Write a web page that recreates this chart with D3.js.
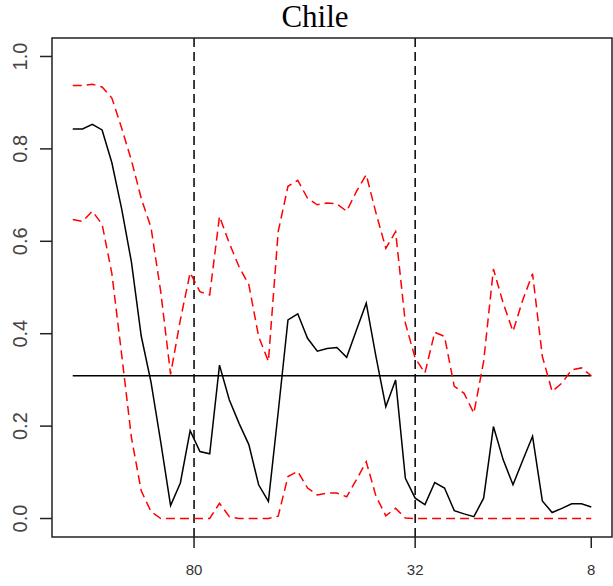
<!DOCTYPE html>
<html>
<head>
<meta charset="utf-8">
<script src="https://cdn.jsdelivr.net/npm/d3@7"></script>
<style>
  body { margin: 0; background: #fff; }
  svg { display: block; }
</style>
</head>
<body>
<svg width="613" height="586"></svg>
<script>
// series, one value per time step
const estimate = [0.843, 0.843, 0.853, 0.841, 0.770, 0.670, 0.555, 0.395, 0.295, 0.165,
  0.028, 0.077, 0.190, 0.145, 0.140, 0.332, 0.257, 0.206, 0.160, 0.073,
  0.037, 0.230, 0.430, 0.443, 0.390, 0.362, 0.368, 0.370, 0.349, 0.408,
  0.466, 0.350, 0.242, 0.300, 0.087, 0.044, 0.030, 0.078, 0.066, 0.017,
  0.010, 0.004, 0.044, 0.199, 0.127, 0.073, 0.126, 0.178, 0.038, 0.013,
  0.022, 0.032, 0.032, 0.025];
const upper = [0.937, 0.937, 0.940, 0.934, 0.910, 0.845, 0.775, 0.693, 0.630, 0.490,
  0.312, 0.430, 0.532, 0.491, 0.484, 0.654, 0.596, 0.545, 0.506, 0.394,
  0.340, 0.621, 0.719, 0.732, 0.693, 0.679, 0.683, 0.681, 0.665, 0.708,
  0.744, 0.661, 0.585, 0.621, 0.423, 0.347, 0.315, 0.403, 0.394, 0.286,
  0.271, 0.228, 0.340, 0.540, 0.466, 0.405, 0.473, 0.530, 0.351, 0.275,
  0.293, 0.322, 0.326, 0.309];
const lower = [0.647, 0.643, 0.665, 0.637, 0.530, 0.355, 0.175, 0.060, 0.015, 0,
  0, 0, 0, 0, 0, 0.033, 0.004, 0, 0, 0,
  0, 0.005, 0.091, 0.102, 0.066, 0.051, 0.055, 0.055, 0.047, 0.084,
  0.123, 0.048, 0.006, 0.022, 0.001, 0, 0, 0, 0, 0,
  0, 0, 0, 0, 0, 0, 0, 0, 0, 0,
  0, 0, 0, 0];
const baseline = 0.309;
const xTickPos = [12.4, 35, 53];
const xTickLabels = ["80", "32", "8"];
const breaks = [12.4, 35];
const yTicks = [0, 0.2, 0.4, 0.6, 0.8, 1.0];

const svg = d3.select("svg");
const pLeft = 52, pRight = 612, pTop = 38, pBottom = 537;
const n = estimate.length;

// R style 4% padding on both axes
const x = d3.scaleLinear().domain([-0.04 * (n - 1), (n - 1) * 1.04]).range([pLeft, pRight]);
const y = d3.scaleLinear().domain([-0.04, 1.04]).range([pBottom, pTop]);

// title
svg.append("text")
  .attr("x", 315)
  .attr("y", 27)
  .attr("text-anchor", "middle")
  .style("font-family", "'Liberation Serif', 'Times New Roman', serif")
  .style("font-size", "31px")
  .text("Chile");

// vertical dashed markers
svg.selectAll("line.brk")
  .data(breaks)
  .enter()
  .append("line")
  .attr("class", "brk")
  .attr("x1", d => x(d)).attr("x2", d => x(d))
  .attr("y1", pTop).attr("y2", pBottom)
  .attr("stroke", "#000")
  .attr("stroke-width", 1.5)
  .attr("stroke-dasharray", "9,5");

// horizontal reference line
svg.append("line")
  .attr("x1", x(0)).attr("x2", x(n - 1))
  .attr("y1", y(baseline)).attr("y2", y(baseline))
  .attr("stroke", "#000")
  .attr("stroke-width", 1.5);

const line = d3.line()
  .x((d, i) => x(i))
  .y(d => y(d));

[upper, lower].forEach(function (s) {
  svg.append("path")
    .datum(s)
    .attr("d", line)
    .attr("fill", "none")
    .attr("stroke", "#ff0000")
    .attr("stroke-width", 1.5)
    .attr("stroke-dasharray", "9,5");
});

svg.append("path")
  .datum(estimate)
  .attr("d", line)
  .attr("fill", "none")
  .attr("stroke", "#000")
  .attr("stroke-width", 1.5);

// box
svg.append("rect")
  .attr("x", pLeft).attr("y", pTop)
  .attr("width", pRight - pLeft).attr("height", pBottom - pTop)
  .attr("fill", "none")
  .attr("stroke", "#222")
  .attr("stroke-width", 1.5);

// y axis
const yAxis = svg.append("g");
yAxis.selectAll("line")
  .data(yTicks)
  .enter()
  .append("line")
  .attr("x1", pLeft - 12).attr("x2", pLeft)
  .attr("y1", d => y(d)).attr("y2", d => y(d))
  .attr("stroke", "#222")
  .attr("stroke-width", 1.5);
yAxis.selectAll("text")
  .data(yTicks)
  .enter()
  .append("text")
  .attr("transform", d => "translate(27," + y(d) + ") rotate(-90)")
  .attr("text-anchor", "middle")
  .style("font-family", "'Liberation Sans', Arial, sans-serif")
  .style("font-size", "20px")
  .style("fill", "#444")
  .text(d3.format(".1f"));

// x axis
const xAxis = svg.append("g");
xAxis.selectAll("line")
  .data(xTickPos)
  .enter()
  .append("line")
  .attr("x1", d => x(d)).attr("x2", d => x(d))
  .attr("y1", pBottom).attr("y2", pBottom + 11)
  .attr("stroke", "#222")
  .attr("stroke-width", 1.5);
xAxis.selectAll("text")
  .data(xTickPos)
  .enter()
  .append("text")
  .attr("x", d => x(d))
  .attr("y", 575)
  .attr("text-anchor", "middle")
  .style("font-family", "'Liberation Sans', Arial, sans-serif")
  .style("font-size", "15px")
  .style("fill", "#333")
  .text((d, i) => xTickLabels[i]);
</script>
</body>
</html>
